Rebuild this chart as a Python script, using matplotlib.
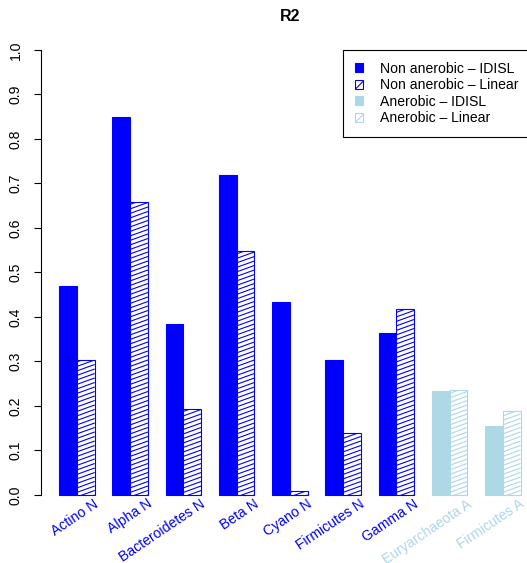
import matplotlib
matplotlib.use("Agg")
import matplotlib.pyplot as plt
import numpy as np
from matplotlib.patches import Patch
from matplotlib.collections import LineCollection

plt.rcParams["font.family"] = ["Liberation Sans", "DejaVu Sans"]
plt.rcParams["hatch.linewidth"] = 0.8

# R2 per taxon, two models each
taxa = ["Actino N", "Alpha N", "Bacteroidetes N", "Beta N", "Cyano N",
        "Firmicutes N", "Gamma N", "Euryarchaeota A", "Firmicutes A"]
r2_idisl = [0.470, 0.850, 0.385, 0.719, 0.434, 0.303, 0.365, 0.234, 0.155]
r2_linear = [0.303, 0.659, 0.193, 0.548, 0.009, 0.139, 0.418, 0.237, 0.188]
anerobic = [False, False, False, False, False, False, False, True, True]

col_non = "#0000FF"
col_an = "#ADD8E6"
fs = 10.1

fig = plt.figure(figsize=(5.27, 5.63), dpi=100)
ax = fig.add_axes([0.0774, 0.0892, 0.9454, 0.8537])
ax.set_xlim(-0.04, 28.04)
ax.set_ylim(-0.04, 1.04)

# pixel scale of the data units, used for the slanted shading lines
p0 = ax.transData.transform((0, 0))
p1 = ax.transData.transform((1, 1))
sx, sy = p1[0] - p0[0], p1[1] - p0[1]
slope = 0.36 * sx / sy
step = 4.5 / sy


def shade(bar, color):
    x0 = bar.get_x()
    w = bar.get_width()
    h = bar.get_height()
    segs = []
    c = -slope * w
    while c < h:
        segs.append([(x0, c), (x0 + w, c + slope * w)])
        c += step
    lc = LineCollection(segs, colors=color, linewidths=0.8, zorder=3)
    ax.add_collection(lc)
    lc.set_clip_path(bar)


for i in range(len(taxa)):
    color = col_an if anerobic[i] else col_non
    left = 1 + 3 * i
    ax.bar(left, r2_idisl[i], width=1, align="edge", color=color,
           edgecolor=color, linewidth=0.8, zorder=2)
    b = ax.bar(left + 1, r2_linear[i], width=1, align="edge", color="white",
               edgecolor=color, linewidth=0.8, zorder=2)[0]
    shade(b, color)
    ax.text(left + 1.93, -0.004, taxa[i], rotation=34, rotation_mode="anchor",
            ha="right", va="top", color=color, fontsize=fs, clip_on=False)

for s in ["top", "right", "bottom"]:
    ax.spines[s].set_visible(False)
ax.spines["left"].set_bounds(0, 1)
ax.spines["left"].set_linewidth(0.8)
ax.set_xticks([])
ax.set_yticks(np.arange(0, 1.01, 0.1))
ax.set_yticklabels(["%.1f" % v for v in np.arange(0, 1.01, 0.1)],
                   rotation=90, va="center", fontsize=fs)
ax.tick_params(axis="y", length=5, width=0.8, pad=8)

ax.set_title("R2", fontweight="bold", fontsize=11.5, pad=8)

handles = [
    Patch(facecolor=col_non, edgecolor=col_non, linewidth=0.8),
    Patch(facecolor="white", edgecolor=col_non, hatch="///", linewidth=0.8),
    Patch(facecolor=col_an, edgecolor=col_an, linewidth=0.8),
    Patch(facecolor="white", edgecolor=col_an, hatch="///", linewidth=0.8),
]
labels = ["Non anerobic \u2013 IDISL", "Non anerobic \u2013 Linear",
          "Anerobic \u2013 IDISL", "Anerobic \u2013 Linear"]
leg = ax.legend(handles, labels, loc="upper left", bbox_to_anchor=(17, 1.0),
                bbox_transform=ax.transData, borderaxespad=0, fontsize=fs,
                handlelength=0.6, handleheight=0.6, handletextpad=1.2,
                borderpad=0.85, labelspacing=0.17, fancybox=False,
                framealpha=1, edgecolor="black")
leg.get_frame().set_linewidth(0.8)

fig.savefig("out.png", dpi=100)
